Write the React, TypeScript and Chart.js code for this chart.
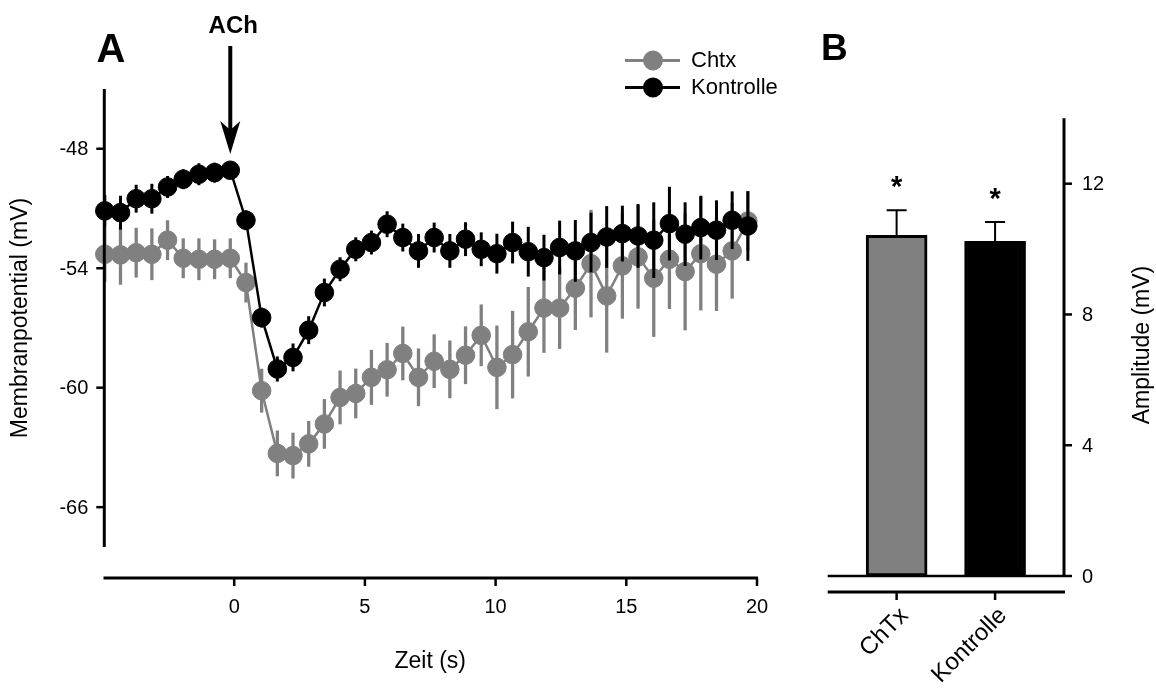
import React, { useEffect, useRef } from "react";
import { Chart, registerables } from "chart.js";

Chart.register(...registerables);

// ---------- Panel A data ----------
const timeS = [
  -4.95, -4.35, -3.75, -3.15, -2.55, -1.95, -1.35, -0.75, -0.15, 0.45,
  1.05, 1.65, 2.25, 2.85, 3.45, 4.05, 4.65, 5.25, 5.85, 6.45,
  7.05, 7.65, 8.25, 8.85, 9.45, 10.05, 10.65, 11.25, 11.85, 12.45,
  13.05, 13.65, 14.25, 14.85, 15.45, 16.05, 16.65, 17.25, 17.85, 18.45,
  19.05, 19.65,
];
const kontrolleMean = [
  -51.12, -51.21, -50.51, -50.51, -49.92, -49.53, -49.28, -49.2, -49.08, -51.59,
  -56.48, -59.06, -58.48, -57.11, -55.22, -54.05, -53.05, -52.71, -51.79, -52.46,
  -53.13, -52.46, -53.13, -52.54, -53.05, -53.27, -52.71, -53.17, -53.47, -52.96,
  -53.13, -52.71, -52.43, -52.26, -52.38, -52.59, -51.76, -52.29, -51.96, -52.09,
  -51.59, -51.88,
];
const kontrolleSem = [
  0.8, 0.85, 0.7, 0.75, 0.55, 0.5, 0.55, 0.5, 0.4, 0.5,
  0.5, 0.63, 0.7, 0.7, 0.7, 0.6, 0.6, 0.6, 0.65, 0.7,
  0.85, 0.75, 0.85, 0.85, 0.85, 1.0, 1.05, 1.25, 1.15, 1.35,
  1.55, 1.5, 1.55, 1.4, 1.6, 1.9, 1.85, 1.6, 1.6, 1.5,
  1.45, 1.75,
];
const chtxMean = [
  -53.3, -53.33, -53.22, -53.3, -52.59, -53.5, -53.55, -53.55, -53.5, -54.72,
  -60.15, -63.3, -63.41, -62.82, -61.82, -60.49, -60.29, -59.48, -59.1, -58.28,
  -59.48, -58.67, -59.08, -58.37, -57.37, -58.98, -58.34, -57.19, -56.0, -56.0,
  -55.0, -53.77, -55.39, -53.88, -53.43, -54.5, -53.55, -54.17, -53.27, -53.8,
  -53.13, -51.63,
];
const chtxSem = [
  1.38, 1.5, 1.25, 1.3, 1.0, 1.0, 1.05, 1.0, 1.0, 1.0,
  1.1, 1.15, 1.15, 1.15, 1.25, 1.35, 1.25, 1.38, 1.35, 1.35,
  1.45, 1.35, 1.45, 1.45, 1.55, 2.1, 2.2, 2.25, 2.25, 2.05,
  2.1, 2.7, 2.85, 2.65, 2.6, 2.95, 2.5, 2.95, 2.85, 2.35,
  2.4, 1.5,
];
const xTicksA = [0, 5, 10, 15, 20];
const yTicksA = [-66, -60, -54, -48];
const achTime = -0.15;

// ---------- Panel B data ----------
const barCategories = ["ChTx", "Kontrolle"];
const barMeans = [10.42, 10.24];
const barSem = [0.77, 0.59];
const barSignificance = ["*", "*"];
const yTicksB = [0, 4, 8, 12];

const FONT = "'Liberation Sans', Arial, Helvetica, sans-serif";
const GRAY = "#808080";
const BLACK = "#000000";

const errorBarPluginA = {
  id: "errorBarsA",
  beforeDatasetDraw(chart: any, args: any) {
    const ds: any = chart.data.datasets[args.index];
    const xs = chart.scales.x;
    const ys = chart.scales.y;
    const ctx = chart.ctx;
    ctx.save();
    ctx.strokeStyle = ds.borderColor;
    ctx.lineWidth = ds.errWidth;
    ds.data.forEach((p: any, i: number) => {
      const e = ds.err[i];
      const x = xs.getPixelForValue(p.x);
      ctx.beginPath();
      ctx.moveTo(x, ys.getPixelForValue(p.y + e));
      ctx.lineTo(x, ys.getPixelForValue(p.y - e));
      ctx.stroke();
    });
    ctx.restore();
  },
};

const decorPluginA = {
  id: "decorA",
  afterDraw(chart: any) {
    const ctx = chart.ctx;
    const xs = chart.scales.x;
    const ys = chart.scales.y;
    const ca = chart.chartArea;
    ctx.save();
    ctx.strokeStyle = BLACK;
    ctx.fillStyle = BLACK;
    // y axis
    const yAxisX = ca.left + 0.8;
    ctx.lineWidth = 3;
    ctx.beginPath();
    ctx.moveTo(yAxisX, ca.top);
    ctx.lineTo(yAxisX, ca.bottom);
    ctx.stroke();
    ctx.lineWidth = 2.5;
    ctx.font = `20px ${FONT}`;
    ctx.textAlign = "right";
    ctx.textBaseline = "middle";
    yTicksA.forEach((v) => {
      const y = ys.getPixelForValue(v);
      ctx.beginPath();
      ctx.moveTo(yAxisX - 8, y);
      ctx.lineTo(yAxisX, y);
      ctx.stroke();
      ctx.fillText(String(v), yAxisX - 16, y + 1);
    });
    // x axis (offset below)
    const xAxisY = ca.bottom + 31;
    ctx.lineWidth = 3;
    ctx.beginPath();
    ctx.moveTo(ca.left, xAxisY);
    ctx.lineTo(ca.right + 1, xAxisY);
    ctx.stroke();
    ctx.lineWidth = 2.5;
    ctx.textAlign = "center";
    xTicksA.forEach((v) => {
      const x = xs.getPixelForValue(v);
      ctx.beginPath();
      ctx.moveTo(x, xAxisY);
      ctx.lineTo(x, xAxisY + 8);
      ctx.stroke();
      ctx.fillText(String(v), x, xAxisY + 29);
    });
    // axis titles
    ctx.font = `23px ${FONT}`;
    ctx.fillText("Zeit (s)", (ca.left + ca.right) / 2, 662);
    ctx.save();
    ctx.translate(21, 318);
    ctx.rotate(-Math.PI / 2);
    ctx.fillText("Membranpotential (mV)", 0, 0);
    ctx.restore();
    // panel letter
    ctx.font = `bold 40px ${FONT}`;
    ctx.textAlign = "center";
    ctx.textBaseline = "alphabetic";
    ctx.fillText("A", 111, 62);
    // ACh label and arrow
    const ax = xs.getPixelForValue(achTime);
    ctx.font = `bold 24px ${FONT}`;
    ctx.fillText("ACh", ax + 3, 33);
    ctx.lineWidth = 4;
    ctx.beginPath();
    ctx.moveTo(ax, 46);
    ctx.lineTo(ax, 130);
    ctx.stroke();
    ctx.beginPath();
    ctx.moveTo(ax, 154);
    ctx.lineTo(ax - 10, 121);
    ctx.lineTo(ax, 130);
    ctx.lineTo(ax + 10, 121);
    ctx.closePath();
    ctx.fill();
    // legend
    const legend = [
      { label: "Chtx", color: GRAY, y: 60.5 },
      { label: "Kontrolle", color: BLACK, y: 87.5 },
    ];
    ctx.font = `22px ${FONT}`;
    ctx.textAlign = "left";
    ctx.textBaseline = "middle";
    legend.forEach((l) => {
      ctx.strokeStyle = l.color;
      ctx.fillStyle = l.color;
      ctx.lineWidth = 3;
      ctx.beginPath();
      ctx.moveTo(625, l.y);
      ctx.lineTo(680, l.y);
      ctx.stroke();
      ctx.beginPath();
      ctx.arc(653, l.y, 10, 0, Math.PI * 2);
      ctx.fill();
      ctx.fillStyle = BLACK;
      ctx.fillText(l.label, 691, l.y);
    });
    ctx.restore();
  },
};

const decorPluginB = {
  id: "decorB",
  afterDatasetsDraw(chart: any) {
    const ctx = chart.ctx;
    const xs = chart.scales.x;
    const ys = chart.scales.y;
    const ca = chart.chartArea;
    ctx.save();
    ctx.strokeStyle = BLACK;
    ctx.fillStyle = BLACK;
    // error bars + significance
    barMeans.forEach((m, i) => {
      const x = xs.getPixelForValue(i);
      const yTop = ys.getPixelForValue(m);
      const yErr = ys.getPixelForValue(m + barSem[i]);
      ctx.lineWidth = 2;
      ctx.beginPath();
      ctx.moveTo(x, yTop);
      ctx.lineTo(x, yErr);
      ctx.moveTo(x - 10, yErr);
      ctx.lineTo(x + 10, yErr);
      ctx.stroke();
      ctx.font = `bold 29px ${FONT}`;
      ctx.textAlign = "center";
      ctx.textBaseline = "alphabetic";
      ctx.fillText(barSignificance[i], x, yErr - 31 + 17);
    });
    // baseline
    const y0 = ys.getPixelForValue(0);
    ctx.lineWidth = 2.5;
    ctx.beginPath();
    ctx.moveTo(ca.left, y0);
    ctx.lineTo(ca.right, y0);
    ctx.stroke();
    // y axis on right
    ctx.lineWidth = 3;
    ctx.beginPath();
    ctx.moveTo(ca.right, ca.top);
    ctx.lineTo(ca.right, ca.bottom);
    ctx.stroke();
    ctx.lineWidth = 2.5;
    ctx.font = `20px ${FONT}`;
    ctx.textAlign = "left";
    ctx.textBaseline = "middle";
    yTicksB.forEach((v) => {
      const y = ys.getPixelForValue(v);
      ctx.beginPath();
      ctx.moveTo(ca.right, y);
      ctx.lineTo(ca.right + 8, y);
      ctx.stroke();
      ctx.fillText(String(v), ca.right + 18, y + 1);
    });
    // category axis (offset below)
    const xAxisY = ca.bottom + 16;
    ctx.lineWidth = 3;
    ctx.beginPath();
    ctx.moveTo(ca.left, xAxisY);
    ctx.lineTo(ca.right + 1, xAxisY);
    ctx.stroke();
    ctx.lineWidth = 2.5;
    ctx.font = `24px ${FONT}`;
    barCategories.forEach((c, i) => {
      const x = xs.getPixelForValue(i);
      ctx.beginPath();
      ctx.moveTo(x, xAxisY);
      ctx.lineTo(x, xAxisY + 8);
      ctx.stroke();
      ctx.save();
      ctx.translate(x + 8, xAxisY + 20);
      ctx.rotate(-Math.PI / 4);
      ctx.textAlign = "right";
      ctx.textBaseline = "middle";
      ctx.fillText(c, 0, 0);
      ctx.restore();
    });
    // axis title
    ctx.save();
    ctx.translate(343, 345);
    ctx.rotate(-Math.PI / 2);
    ctx.textAlign = "center";
    ctx.textBaseline = "middle";
    ctx.font = `23px ${FONT}`;
    ctx.fillText("Amplitude (mV)", 0, 0);
    ctx.restore();
    // panel letter
    ctx.font = `bold 37px ${FONT}`;
    ctx.textAlign = "left";
    ctx.textBaseline = "alphabetic";
    ctx.fillText("B", 21, 60);
    ctx.restore();
  },
};

export default function App() {
  const refA = useRef<HTMLCanvasElement>(null);
  const refB = useRef<HTMLCanvasElement>(null);

  useEffect(() => {
    const chartA = new Chart(refA.current as HTMLCanvasElement, {
      type: "scatter",
      data: {
        datasets: [
          {
            label: "Kontrolle",
            data: timeS.map((t, i) => ({ x: t, y: kontrolleMean[i] })),
            borderColor: BLACK,
            backgroundColor: BLACK,
            pointBackgroundColor: BLACK,
            pointBorderColor: BLACK,
            borderWidth: 2.5,
            pointRadius: 9.3,
            pointBorderWidth: 1,
            showLine: true,
            clip: false,
            order: 1,
            err: kontrolleSem,
            errWidth: 3,
          } as any,
          {
            label: "Chtx",
            data: timeS.map((t, i) => ({ x: t, y: chtxMean[i] })),
            borderColor: GRAY,
            backgroundColor: GRAY,
            pointBackgroundColor: GRAY,
            pointBorderColor: GRAY,
            borderWidth: 2.5,
            pointRadius: 9.3,
            pointBorderWidth: 1,
            showLine: true,
            clip: false,
            order: 2,
            err: chtxSem,
            errWidth: 3.3,
          } as any,
        ],
      },
      options: {
        animation: false,
        responsive: false,
        devicePixelRatio: 1,
        layout: { padding: { left: 103.5, right: 43, top: 89, bottom: 142 } },
        scales: {
          x: { type: "linear", min: -5, max: 20, display: false },
          y: { type: "linear", min: -68, max: -45, display: false },
        },
        plugins: {
          legend: { display: false },
          tooltip: { enabled: false },
        },
      },
      plugins: [errorBarPluginA, decorPluginA],
    });

    const chartB = new Chart(refB.current as HTMLCanvasElement, {
      type: "bar",
      data: {
        datasets: [
          {
            label: "Amplitude",
            data: barCategories.map((c, i) => ({ x: i, y: barMeans[i] })),
            backgroundColor: [GRAY, BLACK],
            borderColor: BLACK,
            borderWidth: 3,
            borderSkipped: false,
            barThickness: 61,
          } as any,
        ],
      },
      options: {
        animation: false,
        responsive: false,
        devicePixelRatio: 1,
        layout: { padding: { left: 27.7, right: 92, top: 118.3, bottom: 113 } },
        scales: {
          x: { type: "linear", min: -0.7, max: 1.7, display: false, offset: false },
          y: { type: "linear", min: 0, max: 14, display: false },
        },
        plugins: {
          legend: { display: false },
          tooltip: { enabled: false },
        },
      },
      plugins: [decorPluginB],
    });

    return () => {
      chartA.destroy();
      chartB.destroy();
    };
  }, []);

  return (
    <div
      style={{
        position: "absolute",
        left: 0,
        top: 0,
        width: 1156,
        height: 689,
        background: "#ffffff",
        overflow: "hidden",
      }}
    >
      <canvas
        ref={refA}
        width={800}
        height={689}
        style={{ position: "absolute", left: 0, top: 0, width: 800, height: 689 }}
      />
      <canvas
        ref={refB}
        width={356}
        height={689}
        style={{ position: "absolute", left: 800, top: 0, width: 356, height: 689 }}
      />
    </div>
  );
}
